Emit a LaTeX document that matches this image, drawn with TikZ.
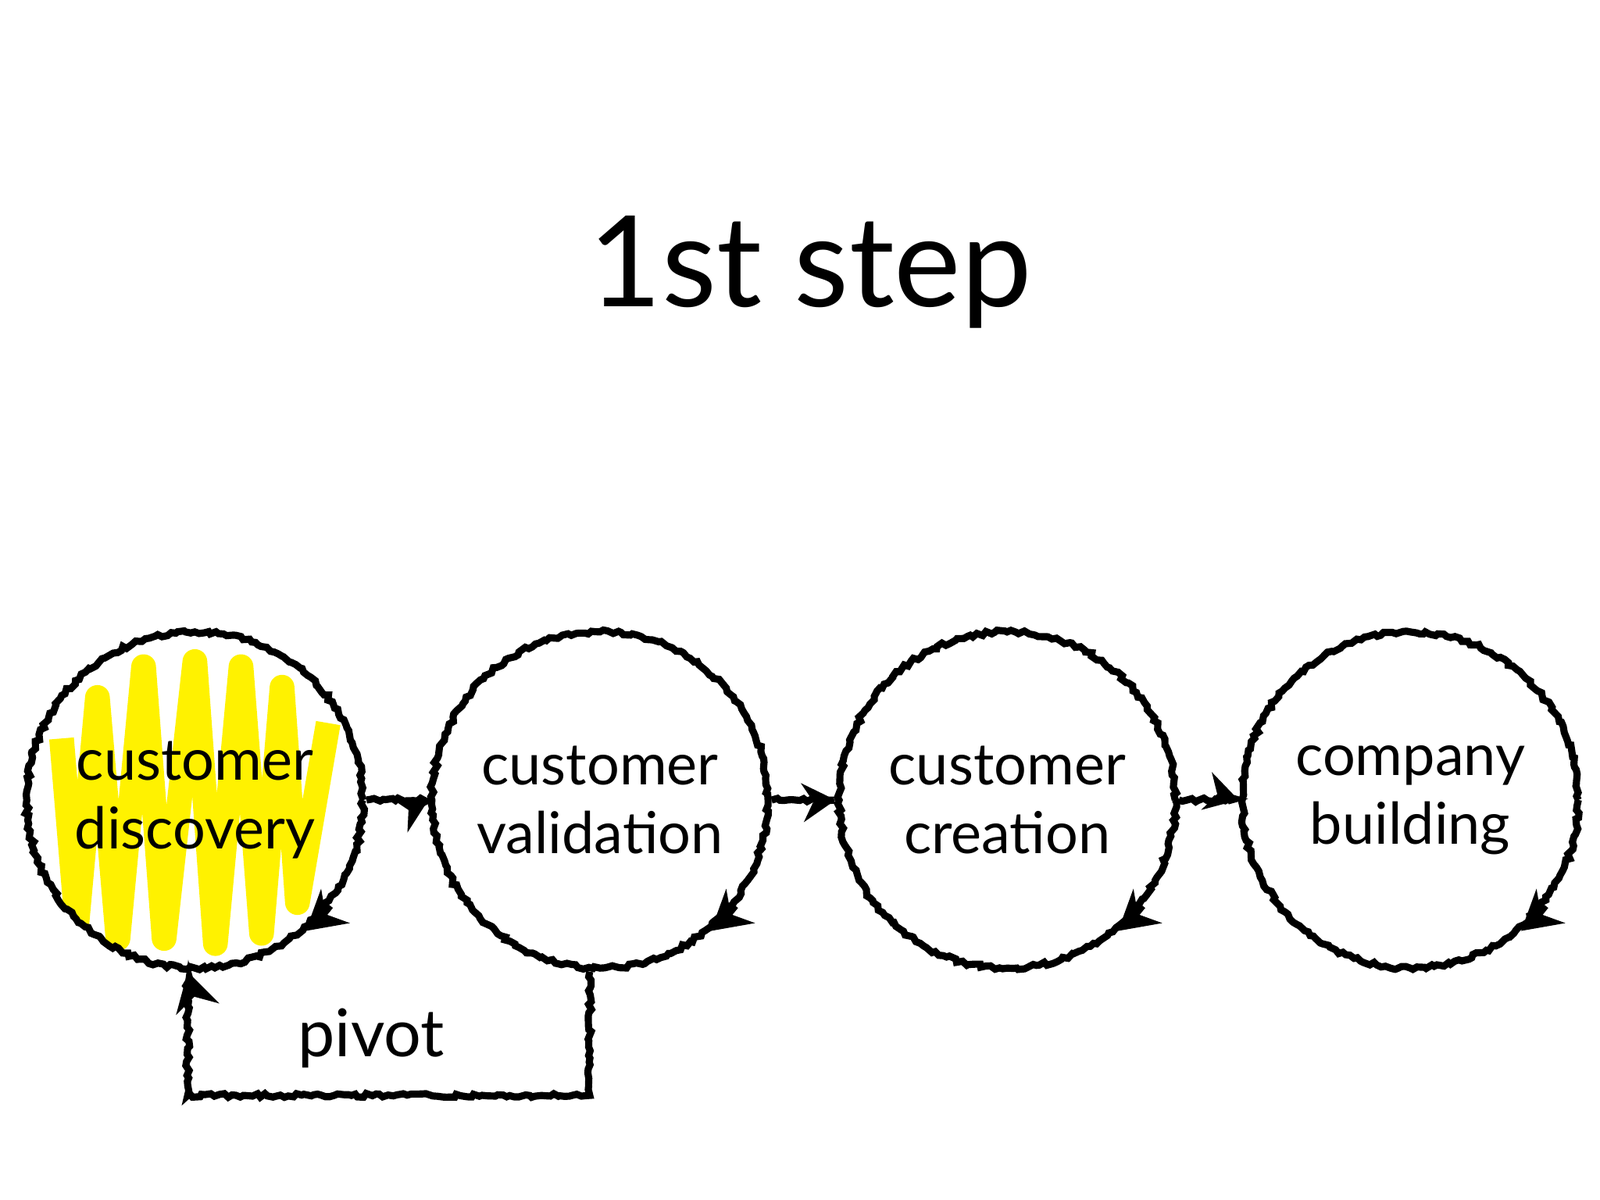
\documentclass[tikz,border=0pt]{standalone}
\usepackage{fontspec}
\setmainfont{Lato}
\usetikzlibrary{decorations.pathmorphing,arrows.meta}
\begin{document}
\begin{tikzpicture}[x=0.01313cm,y=-0.01313cm,
  chalk/.style={decorate,decoration={random steps,segment length=1.5pt,amplitude=0.7pt},line width=2.6pt},
  stage/.style={circle,draw,chalk,minimum size=4.3cm,inner sep=0pt,align=center,
    font=\fontsize{21}{25}\selectfont},
  flow/.style={chalk,-{Stealth[length=12pt,width=14pt]}},
  loop/.style={line width=2.6pt,-{Stealth[length=14pt,width=16pt]}}]
\useasboundingbox (0,0) rectangle (1560,1170);
\node (title) at (790,265) {\fontsize{46}{50}\selectfont 1st step};
% yellow scribble behind first stage
\begin{scope}
\clip (190,780) circle (165);
\draw[yellow,line width=9pt,line join=round]
  (60,720) -- (75,900) -- (95,680) -- (115,915) -- (140,650) -- (160,915)
  -- (190,645) -- (210,920) -- (235,650) -- (255,910) -- (275,670) -- (290,880) -- (320,705);
\end{scope}
\node[stage] (c1) at (190,780) {customer\\discovery};
\node[stage] (c2) at (585,780) {customer\\validation};
\node[stage] (c3) at (982,780) {customer\\creation};
\node[stage] (c4) at (1375,780) {company\\building};
\draw[flow] (c1) -- (c2);
\draw[flow] (c2) -- (c3);
\draw[flow] (c3) -- (c4);
\foreach \c in {c1,c2,c3,c4}
  \draw[loop] (\c.-38) arc[start angle=-38,end angle=-50,radius=2.15cm];
\coordinate (p1) at (575,1068);
\coordinate (p2) at (183,1068);
\draw[chalk,-{Stealth[length=14pt,width=16pt]}] (c2.south -| p1) -- (p1) -- (p2) -- (c1.south -| p2);
\node (pivot) at (362,1012) {\fontsize{24}{28}\selectfont pivot};
\end{tikzpicture}
\end{document}
